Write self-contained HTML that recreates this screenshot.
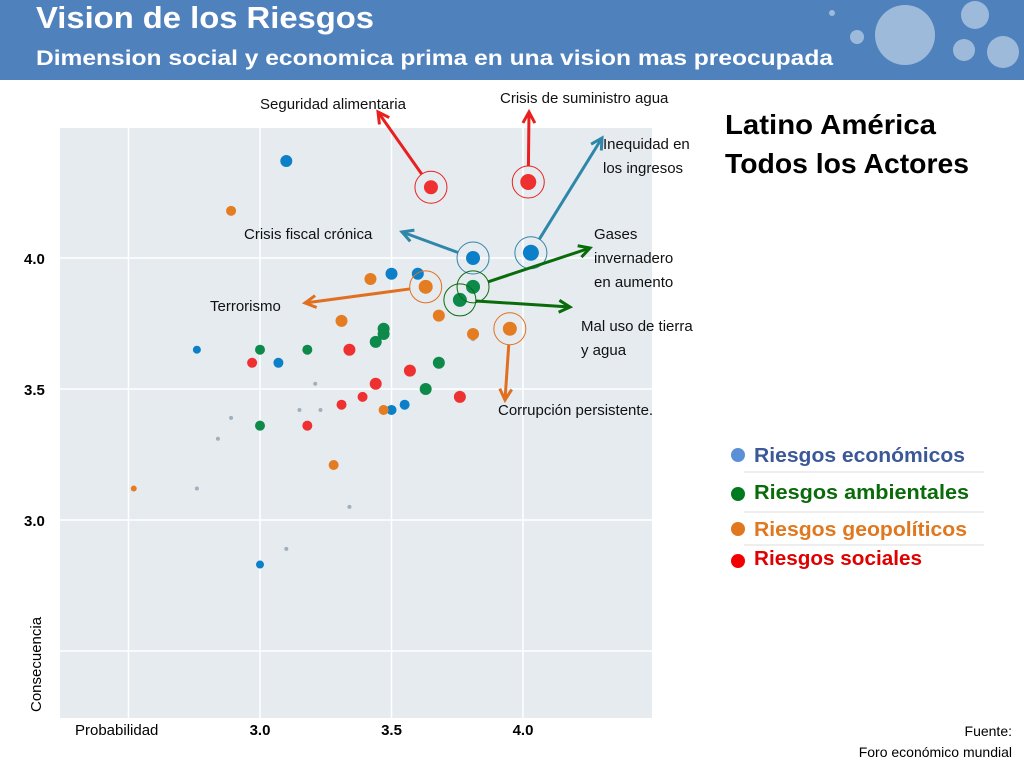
<!DOCTYPE html>
<html><head><meta charset="utf-8"><style>
body{margin:0;width:1024px;height:768px;overflow:hidden;background:#fff;font-family:"Liberation Sans",sans-serif}
svg text{font-family:"Liberation Sans",sans-serif}
</style></head><body>
<svg id="c" width="1024" height="768">
<rect x="0" y="0" width="1024" height="80" fill="#4f81bd"/>
<g fill="#fff" opacity="0.45">
<circle cx="905" cy="35" r="30"/><circle cx="975" cy="15" r="14"/><circle cx="1003" cy="52" r="16"/><circle cx="964" cy="50" r="11"/><circle cx="857" cy="37" r="7"/><circle cx="832" cy="13" r="3"/>
</g>
<text x="36" y="28" font-size="31" font-weight="bold" fill="#fff" textLength="338" lengthAdjust="spacingAndGlyphs">Vision de los Riesgos</text>
<text x="36" y="65" font-size="21" font-weight="bold" fill="#fff" textLength="797" lengthAdjust="spacingAndGlyphs">Dimension social y economica  prima en una vision mas preocupada</text>
<rect x="60" y="128" width="592" height="590" fill="#e6ebf0"/>
<g id="grid"></g>
<g id="marks"></g>
<g id="ann" font-size="15" fill="#111"></g>
<text x="725" y="134" font-size="28" font-weight="bold" fill="#000" textLength="211" lengthAdjust="spacingAndGlyphs">Latino América</text>
<text x="725" y="173" font-size="28" font-weight="bold" fill="#000" textLength="244" lengthAdjust="spacingAndGlyphs">Todos los Actores</text>
<g font-size="20" font-weight="bold">
<circle cx="738" cy="455" r="7" fill="#5b8fd6"/><text x="754" y="462" fill="#3b5998" textLength="211" lengthAdjust="spacingAndGlyphs">Riesgos económicos</text>
<line x1="744" y1="472" x2="984" y2="472" stroke="#ddd"/>
<circle cx="738" cy="494" r="7" fill="#007a1f"/><text x="754" y="499" fill="#0a6b0a" textLength="215" lengthAdjust="spacingAndGlyphs">Riesgos ambientales</text>
<line x1="744" y1="512" x2="984" y2="512" stroke="#ddd"/>
<circle cx="738" cy="529" r="7" fill="#e0781f"/><text x="754" y="536" fill="#e0781f" textLength="213" lengthAdjust="spacingAndGlyphs">Riesgos geopolíticos</text>
<line x1="744" y1="545" x2="984" y2="545" stroke="#ddd"/>
<circle cx="738" cy="561" r="7" fill="#f20000"/><text x="754" y="565" fill="#e00000" textLength="168" lengthAdjust="spacingAndGlyphs">Riesgos sociales</text>
</g>
<text x="1012" y="736" font-size="14" text-anchor="end">Fuente:</text>
<text x="1012" y="757" font-size="14" text-anchor="end">Foro económico mundial</text>
<text x="75" y="735" font-size="15">Probabilidad</text>
<text transform="translate(41,712) rotate(-90)" font-size="15">Consecuencia</text>
</svg>
<script>
const xTicks=[2.5,3.0,3.5,4.0];
const yTicks=[4.0,3.5,3.0,2.5];
const xLabels=["3.0","3.5","4.0"];
const yLabels=["4.0","3.5","3.0"];
const ecoX=[3.10,2.76,3.07,3.50,3.60,3.81,4.03,3.50,3.55,3.00];
const ecoY=[4.37,3.65,3.60,3.94,3.94,4.00,4.02,3.42,3.44,2.83];
const ecoR=[6,4,5,6,6,7,8,5,5,4];
const geoX=[2.89,3.42,3.63,3.31,3.68,3.81,3.95,3.47,3.28,2.52];
const geoY=[4.18,3.92,3.89,3.76,3.78,3.71,3.73,3.42,3.21,3.12];
const geoR=[5,6,7,6,6,6,7,5,5,3];
const envX=[3.00,3.18,3.47,3.47,3.44,3.68,3.63,3.81,3.76,3.00];
const envY=[3.65,3.65,3.73,3.71,3.68,3.60,3.50,3.89,3.84,3.36];
const envR=[5,5,6,6,6,6,6,7,7,5];
const socX=[3.65,4.02,2.97,3.34,3.44,3.39,3.57,3.31,3.18,3.76];
const socY=[4.27,4.29,3.60,3.65,3.52,3.47,3.57,3.44,3.36,3.47];
const socR=[7,8,5,6,6,5,6,5,5,6];
const grayX=[3.21,3.15,3.23,2.89,2.84,2.76,3.34,3.10,3.81];
const grayY=[3.52,3.42,3.42,3.39,3.31,3.12,3.05,2.89,3.69];
const xs=v=>260+(v-3)*263;
const ys=v=>258-(v-4)*262;
const NS="http://www.w3.org/2000/svg";
function mk(p,t,a){const e=document.createElementNS(NS,t);for(const k in a)e.setAttribute(k,a[k]);p.appendChild(e);return e;}
const grid=document.getElementById('grid');
xTicks.forEach(v=>{const l=mk(grid,'line',{x1:xs(v),x2:xs(v),y1:128,y2:718,stroke:'#fff','stroke-width':1.5});

});
yTicks.forEach(v=>{const l=mk(grid,'line',{x1:60,x2:652,y1:ys(v),y2:ys(v),stroke:'#fff','stroke-width':1.5});

});
xLabels.forEach(s=>{const t=mk(grid,'text',{x:xs(+s),y:735,'font-size':15,'font-weight':'bold','text-anchor':'middle'});t.textContent=s;

});
yLabels.forEach(s=>{const t=mk(grid,'text',{x:24,y:ys(+s)+6,'font-size':15,'font-weight':'bold'});t.textContent=s;

});
const marks=document.getElementById('marks');
grayX.forEach((v,i)=>{const c=mk(marks,'circle',{cx:xs(v),cy:ys(grayY[i]),r:2,fill:'#9fb0bf'});

});
function series(X,Y,R,col,name){X.forEach((v,i)=>{const c=mk(marks,'circle',{cx:xs(v),cy:ys(Y[i]),r:R[i],fill:col});

});}
series(ecoX,ecoY,ecoR,'#0b7fc7','economic-point');
series(geoX,geoY,geoR,'#e47c22','geopolitical-point');
series(envX,envY,envR,'#0d8a4a','environmental-point');
series(socX,socY,socR,'#ee3030','social-point');
const ann=document.getElementById('ann');
const A=[
[socX,socY,0,'#e82020',378,112,'Seguridad alimentaria',260,109],
[socX,socY,1,'#e82020',529,112,'Crisis de suministro agua',500,103],
[ecoX,ecoY,6,'#2f86a8',602,138,'',0,0],
[ecoX,ecoY,5,'#2f86a8',402,232,'Crisis fiscal crónica',244,239],
[envX,envY,7,'#0a6b0a',590,248,'',0,0],
[geoX,geoY,2,'#e07020',305,303,'Terrorismo',210,311],
[envX,envY,8,'#0a6b0a',570,307,'',0,0],
[geoX,geoY,6,'#e07020',505,400,'Corrupción persistente.',498,415]];
A.forEach(a=>{const cx=xs(a[0][a[2]]),cy=ys(a[1][a[2]]);
const r=mk(ann,'circle',{cx:cx,cy:cy,r:16,fill:'none',stroke:a[3],'stroke-width':1});


const dx=a[4]-cx,dy=a[5]-cy,d=Math.hypot(dx,dy),ux=dx/d,uy=dy/d;
const sx=cx+ux*16,sy=cy+uy*16;
const l=mk(ann,'line',{x1:sx,y1:sy,x2:a[4],y2:a[5],stroke:a[3],'stroke-width':3});


const hx=a[4],hy=a[5],px=-uy,py=ux;
mk(ann,'polyline',{points:`${hx-ux*11+px*6},${hy-uy*11+py*6} ${hx},${hy} ${hx-ux*11-px*6},${hy-uy*11-py*6}`,fill:'none',stroke:a[3],'stroke-width':3});
if(a[6]){const t=mk(ann,'text',{x:a[7],y:a[8]});t.textContent=a[6];

}
});
[['Inequidad en',603,149],['los ingresos',603,173],['Gases',594,239],['invernadero',594,263],['en aumento',594,287],['Mal uso de tierra',581,331],['y agua',581,355]].forEach(s=>{
const t=mk(ann,'text',{x:s[1],y:s[2]});t.textContent=s[0];

});
</script>
</body></html>
